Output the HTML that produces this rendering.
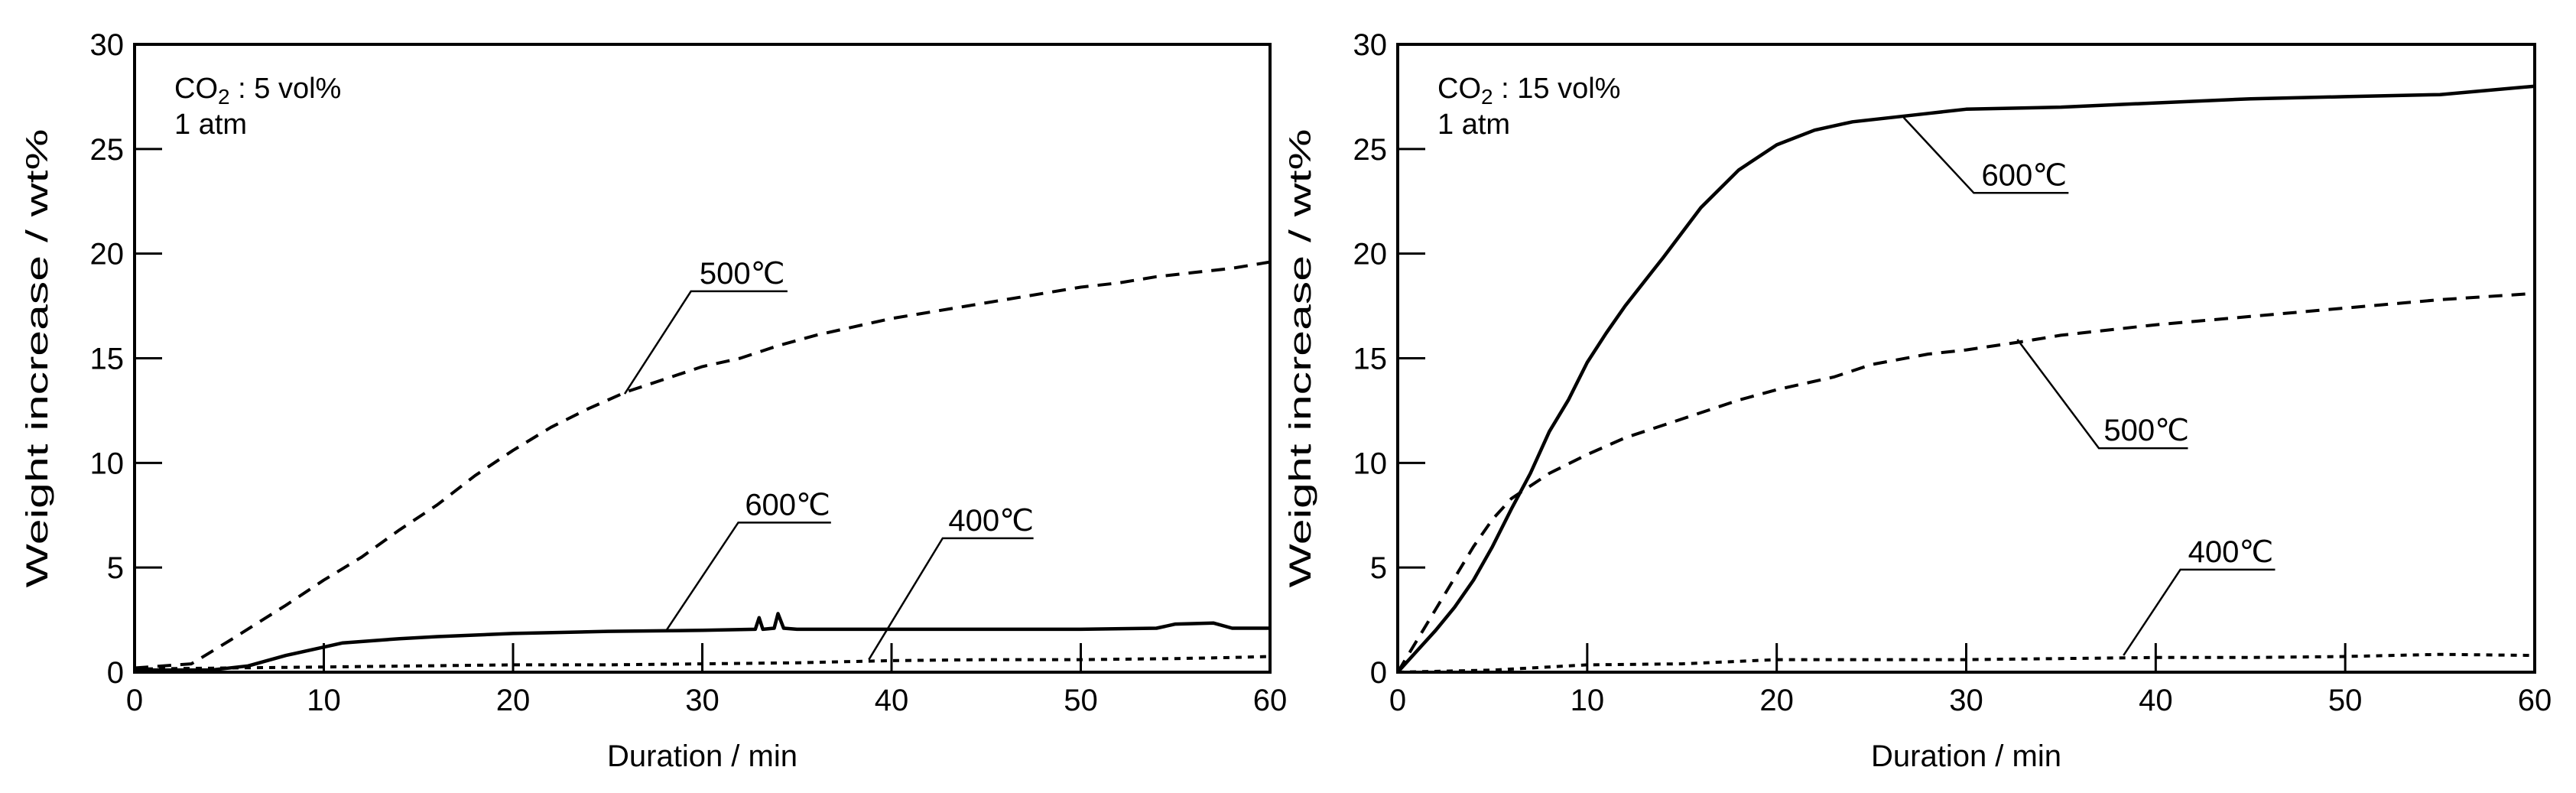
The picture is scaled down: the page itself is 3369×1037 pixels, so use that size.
<!DOCTYPE html>
<html><head><meta charset="utf-8"><style>
html,body{margin:0;padding:0;background:#fff;}
svg{display:block;font-family:"Liberation Sans",sans-serif;}
</style></head><body>
<svg id="chart" width="3369" height="1037" viewBox="0 0 3369 1037" xmlns="http://www.w3.org/2000/svg"></svg>
<script>
// ---- data ----
const xTicks=[0,10,20,30,40,50,60];
const yTicks=[0,5,10,15,20,25,30];
const leftTitle=["CO","2"," : 5 vol%"];
const rightTitle=["CO","2"," : 15 vol%"];
const L500x=[0,3,5,8,10,12,14,16,18,20,22,24,26,28,30,32,34,36,38,40,42,44,46,48,50,52,54,56,58,60];
const L500y=[0.2,0.4,1.5,3.2,4.4,5.5,6.8,8.0,9.4,10.6,11.7,12.6,13.4,14.0,14.6,15.0,15.6,16.1,16.5,16.9,17.2,17.5,17.8,18.1,18.4,18.6,18.9,19.1,19.3,19.6];
const L600x=[0,4,6,8,10,11,14,16,20,25,30,32.8,33,33.2,33.8,34,34.3,35,40,50,54,55,57,58,60];
const L600y=[0.1,0.1,0.3,0.8,1.2,1.4,1.6,1.7,1.85,1.95,2.0,2.05,2.6,2.05,2.1,2.8,2.1,2.05,2.05,2.05,2.1,2.3,2.35,2.1,2.1];
const L400x=[0,5,10,15,20,25,30,35,40,45,50,55,58,60];
const L400y=[0.15,0.2,0.25,0.3,0.35,0.35,0.4,0.45,0.55,0.6,0.6,0.65,0.7,0.75];
const R600x=[0,1,2,3,4,5,6,7,8,9,10,11,12,14,16,18,20,22,24,26,28,30,35,40,45,50,55,60];
const R600y=[0,1,2,3.1,4.4,6,7.8,9.5,11.5,13,14.8,16.2,17.5,19.8,22.2,24,25.2,25.9,26.3,26.5,26.7,26.9,27.0,27.2,27.4,27.5,27.6,28.0];
const R500x=[0,1,2,3,4,5,6,8,10,12,15,18,20,23,25,28,30,33,35,40,45,50,55,60];
const R500y=[0,1.5,3,4.5,6,7.3,8.3,9.5,10.4,11.2,12.1,13.0,13.5,14.1,14.7,15.2,15.4,15.8,16.1,16.6,17.0,17.4,17.8,18.1];
const R400x=[0,5,10,15,20,25,30,35,40,45,50,55,60];
const R400y=[0,0.1,0.35,0.4,0.6,0.6,0.6,0.65,0.7,0.7,0.75,0.85,0.8];
const NS="http://www.w3.org/2000/svg";
const svg=document.getElementById('chart');
function el(t,a,p){const e=document.createElementNS(NS,t);for(const k in a)e.setAttribute(k,a[k]);(p||svg).appendChild(e);return e;}
function panel(px0,px1,name,title,series,notes){
  const top=58,bot=879;
  const sx=v=>px0+(v/60)*(px1-px0), sy=v=>bot-(v/30)*(bot-top);
  const g=el('g',{});
  
  
  const fr=el('rect',{x:px0,y:top,width:px1-px0,height:bot-top,fill:'none',stroke:'#000','stroke-width':4},g);
  
  yTicks.forEach(v=>{
    if(v>0&&v<30){const t=el('line',{x1:px0,x2:px0+36,y1:sy(v),y2:sy(v),stroke:'#000','stroke-width':3},g);
    }
    const l=el('text',{x:px0-14,y:sy(v)+14,'text-anchor':'end','font-size':40},g);l.textContent=v;
    
  });
  xTicks.forEach(v=>{
    if(v>0&&v<60){const t=el('line',{x1:sx(v),x2:sx(v),y1:bot,y2:bot-38,stroke:'#000','stroke-width':3},g);
    }
    const l=el('text',{x:sx(v),y:929,'text-anchor':'middle','font-size':40},g);l.textContent=v;
    
  });
  const xt=el('text',{x:(px0+px1)/2,y:1002,'text-anchor':'middle','font-size':40},g);xt.textContent='Duration / min';
  
  const cy=(top+bot)/2, cx=px0-128;
  const yt=el('text',{x:cx,y:cy,'text-anchor':'middle','font-size':40,transform:`rotate(-90 ${cx} ${cy})`,textLength:600,lengthAdjust:'spacingAndGlyphs',dy:14},g);
  yt.textContent='Weight increase / wt%';
  
  const c=el('text',{x:px0+52,y:128,'font-size':38},g);
  
  const s1=el('tspan',{},c);s1.textContent=title[0];
  const s2=el('tspan',{dy:8,'font-size':28},c);s2.textContent=title[1];
  const s3=el('tspan',{dy:-8},c);s3.textContent=title[2];
  const a=el('text',{x:px0+52,y:175,'font-size':38},g);a.textContent='1 atm';
  
  series.forEach(s=>{
    const d=s.x.map((v,i)=>(i?'L':'M')+sx(v).toFixed(1)+','+sy(s.y[i]).toFixed(1)).join(' ');
    const p=el('path',{d:d,fill:'none',stroke:'#000','stroke-width':s.w,'stroke-dasharray':s.dash,'stroke-linejoin':'round'},g);
    
  });
  notes.forEach(n=>{
    const ln=el('path',{d:`M${sx(n.ex)},${sy(n.ey)} L${sx(n.x0)},${sy(n.y)} L${sx(n.x1)},${sy(n.y)}`,fill:'none',stroke:'#000','stroke-width':2.5},g);
    
    const t=el('text',{x:(sx(n.x0)+sx(n.x1))/2+4,y:sy(n.y)-10,'font-size':40,'text-anchor':'middle'},g);t.textContent=n.t;
    
  });
}
panel(176,1661,'left-panel-5vol',leftTitle,[
 {x:L500x,y:L500y,dash:'18 12',w:4,name:'line-500c'},
 {x:L600x,y:L600y,dash:'none',w:4.5,name:'line-600c'},
 {x:L400x,y:L400y,dash:'8 8',w:4,name:'line-400c'}],
 [{t:'500℃',x0:29.4,x1:34.5,y:18.2,ex:25.9,ey:13.3},
  {t:'600℃',x0:31.9,x1:36.8,y:7.15,ex:28.1,ey:2.0},
  {t:'400℃',x0:42.7,x1:47.5,y:6.4,ex:38.8,ey:0.6}]);
panel(1828,3315,'right-panel-15vol',rightTitle,[
 {x:R600x,y:R600y,dash:'none',w:4.5,name:'line-600c'},
 {x:R500x,y:R500y,dash:'18 12',w:4,name:'line-500c'},
 {x:R400x,y:R400y,dash:'8 8',w:4,name:'line-400c'}],
 [{t:'600℃',x0:30.4,x1:35.4,y:22.9,ex:26.7,ey:26.5},
  {t:'500℃',x0:37,x1:41.7,y:10.7,ex:32.7,ey:15.9},
  {t:'400℃',x0:41.3,x1:46.3,y:4.9,ex:38.3,ey:0.8}]);
</script>
</body></html>
